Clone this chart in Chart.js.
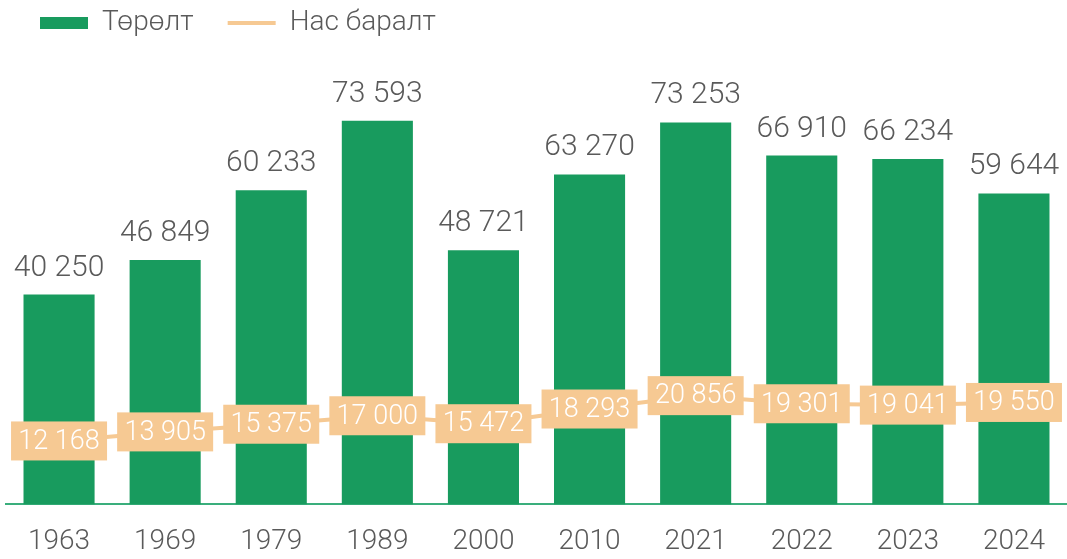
<!DOCTYPE html>
<html>
<head>
<meta charset="utf-8">
<script src="https://cdn.jsdelivr.net/npm/chart.js@4"></script>
<style>
  html, body { margin: 0; padding: 0; background: #fff; }
  #wrap { width: 1067px; height: 559px; }
</style>
</head>
<body>
<div id="wrap"><canvas id="chart" width="1067" height="559"></canvas></div>
<script>
// өгөгдөл
const years = ['1963', '1969', '1979', '1989', '2000', '2010', '2021', '2022', '2023', '2024'];
const births = [40250, 46849, 60233, 73593, 48721, 63270, 73253, 66910, 66234, 59644];
const deaths = [12168, 13905, 15375, 17000, 15472, 18293, 20856, 19301, 19041, 19550];

const GREEN = '#189b5e';
const PEACH = '#f6c993';
const GREY = '#5a5a5a';
const FONT = 'Roboto, "Noto Sans", sans-serif';

// 40250 -> "40 250"
const fmt = (v) => String(v).replace(/\B(?=(\d{3})+(?!\d))/g, ' ');

// баганын дээрх болон шугамын хайрцагтай шошго
const valueLabels = {
    id: 'valueLabels',
    afterDatasetsDraw(chart) {
        const ctx = chart.ctx;
        ctx.save();
        ctx.textAlign = 'center';

        const bars = chart.getDatasetMeta(0).data;
        ctx.font = '300 30px ' + FONT;
        ctx.fillStyle = GREY;
        ctx.textBaseline = 'alphabetic';
        bars.forEach((bar, i) => {
            ctx.fillText(fmt(births[i]), bar.x, bar.y - 19);
        });

        const pts = chart.getDatasetMeta(1).data;
        ctx.font = '300 27px ' + FONT;
        ctx.textBaseline = 'middle';
        pts.forEach((p, i) => {
            ctx.fillStyle = PEACH;
            ctx.fillRect(p.x - 48, p.y - 19.5, 96, 39);
            ctx.fillStyle = '#fff';
            ctx.fillText(fmt(deaths[i]), p.x, p.y + 1);
        });
        ctx.restore();
    }
};

new Chart(document.getElementById('chart'), {
    data: {
        labels: years,
        datasets: [
            {
                type: 'bar',
                label: 'Төрөлт',
                data: births,
                backgroundColor: GREEN,
                borderWidth: 0,
                pointStyle: 'rect',
                categoryPercentage: 1,
                barPercentage: 0.67,
                order: 2
            },
            {
                type: 'line',
                label: 'Нас баралт',
                data: deaths,
                borderColor: PEACH,
                backgroundColor: PEACH,
                borderWidth: 4,
                pointRadius: 0,
                pointStyle: 'line',
                tension: 0,
                order: 1
            }
        ]
    },
    options: {
        responsive: false,
        animation: false,
        layout: { padding: { top: -25, left: 6, right: 0, bottom: -21 } },
        scales: {
            x: {
                grid: { display: false, drawTicks: false },
                border: { display: true, color: '#3aae7c', width: 2 },
                ticks: { color: GREY, font: { family: FONT, size: 28, weight: '300' }, padding: 21 }
            },
            y: { display: false, min: 0, max: 87720 }
        },
        plugins: {
            legend: {
                align: 'start',
                reverse: true,
                labels: {
                    usePointStyle: true,
                    pointStyleWidth: 48,
                    boxHeight: 12,
                    padding: 34,
                    color: GREY,
                    font: { family: FONT, size: 28, weight: '300' }
                }
            },
            tooltip: { enabled: false }
        }
    },
    plugins: [valueLabels]
});
</script>
</body>
</html>
